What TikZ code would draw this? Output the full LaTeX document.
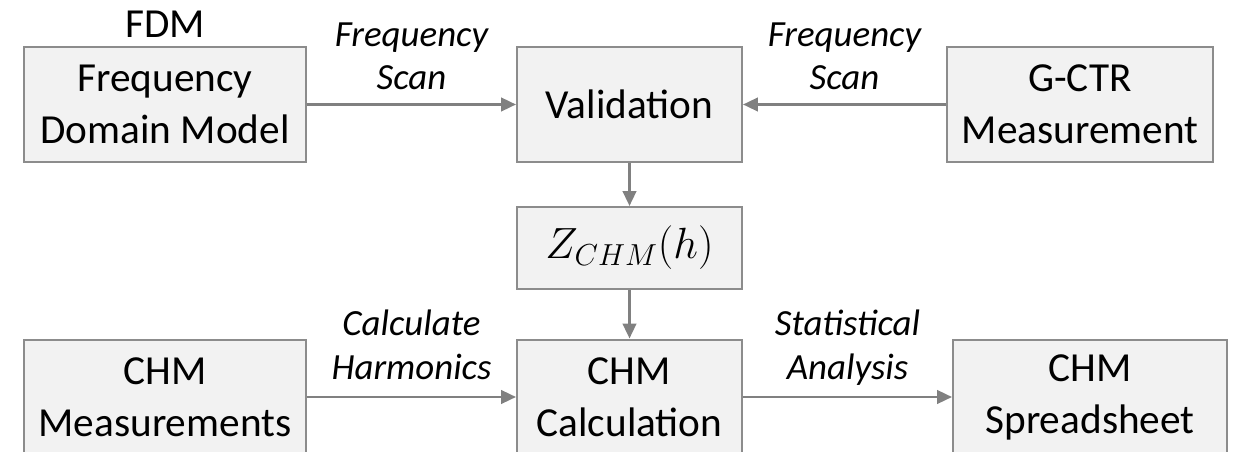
\documentclass[tikz,border=0pt]{standalone}
\usepackage{fontspec}
\setmainfont{Carlito}
\usetikzlibrary{arrows.meta}

\definecolor{boxfill}{HTML}{F2F2F2}
\definecolor{boxline}{HTML}{8C8C8C}
\definecolor{arrowgray}{HTML}{808080}

\begin{document}
\begin{tikzpicture}[x=0.02cm,y=-0.02cm,
  block/.style={draw=boxline, line width=0.04cm, fill=boxfill, align=center,
    minimum height=2.3cm, inner sep=0pt,
    font=\fontsize{23.5}{29.6}\selectfont},
  flow/.style={draw=arrowgray, line width=0.055cm,
    -{Triangle[length=0.3cm,width=0.27cm]}},
  lbl/.style={align=center, inner sep=0pt, text depth=0pt,
    font=\fontsize{21}{25}\selectfont\itshape}]

\useasboundingbox (0,0) rectangle (1236,452);

% top row
\node[block, minimum width=5.64cm] (fdm) at (165,104.5) {Frequency\\Domain Model};
\node[block, minimum width=4.5cm] (valid) at (629.5,104.5) {Validation};
\node[block, minimum width=5.32cm] (gctr) at (1080,104.5) {G-CTR\\Measurement};
\node[anchor=base, inner sep=0pt, font=\fontsize{23.5}{29.6}\selectfont] (fdmname) at (165,38) {FDM};

% middle
\node[block, minimum width=4.5cm, minimum height=1.64cm] (zchm) at (629.5,248) {$Z_{CHM}(h)$};

% bottom row
\node[block, minimum width=5.64cm] (chmmeas) at (165,397) {CHM\\Measurements};
\node[block, minimum width=4.5cm] (chmcalc) at (629.5,397) {CHM\\Calculation};
\node[block, minimum width=5.48cm] (chmsheet) at (1090,397) {CHM\\Spreadsheet};

\draw[flow] (fdm) -- node[lbl, above=7.5pt] (lblleft) {Frequency\\Scan} (valid);
\draw[flow] (gctr) -- node[lbl, above=7.5pt] (lblright) {Frequency\\Scan} (valid);
\draw[flow] (valid) -- (zchm);
\draw[flow] (zchm) -- (chmcalc);
\draw[flow] (chmmeas) -- node[lbl, above=9pt] (lblcalc) {Calculate\\Harmonics} (chmcalc);
\draw[flow] (chmcalc) -- node[lbl, above=9pt] (lblstat) {Statistical\\Analysis} (chmsheet);

\end{tikzpicture}
\end{document}
